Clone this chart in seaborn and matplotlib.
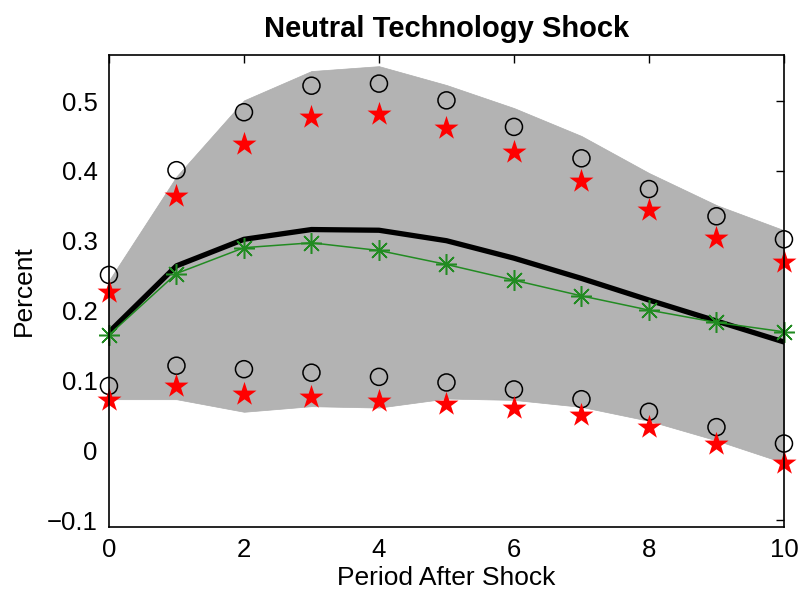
import numpy as np
import pandas as pd
import matplotlib
matplotlib.use("Agg")
import matplotlib.pyplot as plt
import seaborn as sns

# Horizon (periods after the shock)
periods = list(range(11))

# Posterior band (shaded area)
band_upper = [0.243, 0.392, 0.501, 0.543, 0.550, 0.523, 0.490, 0.450, 0.397, 0.351, 0.315]
band_lower = [0.073, 0.073, 0.055, 0.063, 0.061, 0.074, 0.072, 0.062, 0.042, 0.014, -0.018]

# Median response (thick black line)
median_resp = [0.169, 0.264, 0.302, 0.316, 0.315, 0.300, 0.275, 0.246, 0.215, 0.185, 0.155]

# Alternative estimate (green line with asterisks)
alt_resp = [0.165, 0.253, 0.290, 0.297, 0.286, 0.266, 0.2435, 0.221, 0.2006, 0.183, 0.1695]

# Circle bounds
circ_upper = [0.251, 0.401, 0.484, 0.522, 0.525, 0.501, 0.463, 0.418, 0.374, 0.335, 0.302]
circ_lower = [0.092, 0.121, 0.116, 0.111, 0.105, 0.097, 0.087, 0.073, 0.055, 0.033, 0.0095]

# Star bounds
star_upper = [0.227, 0.364, 0.439, 0.477, 0.481, 0.462, 0.427, 0.386, 0.344, 0.304, 0.269]
star_lower = [0.0716, 0.092, 0.081, 0.0755, 0.0707, 0.066, 0.060, 0.050, 0.0325, 0.0095, -0.018]

xticks = [0, 2, 4, 6, 8, 10]
yticks = [-0.1, 0, 0.1, 0.2, 0.3, 0.4, 0.5]
ytick_labels = ["\u22120.1", "0", "0.1", "0.2", "0.3", "0.4", "0.5"]

sns.set_style("white")
plt.rcParams["font.family"] = ["Liberation Sans", "DejaVu Sans"]
plt.rcParams["text.color"] = "black"
plt.rcParams["axes.labelcolor"] = "black"
plt.rcParams["xtick.color"] = "black"
plt.rcParams["ytick.color"] = "black"

df = pd.DataFrame({
    "period": periods,
    "band_upper": band_upper,
    "band_lower": band_lower,
    "median": median_resp,
    "alt": alt_resp,
    "circ_upper": circ_upper,
    "circ_lower": circ_lower,
    "star_upper": star_upper,
    "star_lower": star_lower,
})

fig = plt.figure(figsize=(8.03, 5.95), dpi=100)
ax = fig.add_axes([0.1357, 0.1143, 0.8406, 0.7933])

ax.fill_between(df["period"], df["band_lower"], df["band_upper"],
                facecolor="#b3b3b3", edgecolor="#adadad", linewidth=0.5, zorder=1)

sns.lineplot(data=df, x="period", y="median", ax=ax, color="black",
             linewidth=3.8, zorder=3, legend=False)
sns.lineplot(data=df, x="period", y="alt", ax=ax, color="#228B22",
             linewidth=1.1, marker=(8, 2, 0), markersize=15,
             markeredgecolor="#228B22", markeredgewidth=1.1,
             zorder=4, legend=False, clip_on=False)

for col in ["circ_upper", "circ_lower"]:
    sns.scatterplot(data=df, x="period", y=col, ax=ax, marker="o", s=150,
                    facecolors="none", edgecolor="black", linewidth=1.1,
                    zorder=5, legend=False, clip_on=False)
for col in ["star_upper", "star_lower"]:
    sns.scatterplot(data=df, x="period", y=col, ax=ax, marker="*", s=330,
                    color="#ff0000", edgecolor="#ff0000", linewidth=0,
                    zorder=5, legend=False, clip_on=False)

ax.set_xlim(0, 10)
ax.set_ylim(-0.11, 0.566)
ax.set_xticks(xticks)
ax.set_xticklabels([str(t) for t in xticks])
ax.set_yticks(yticks)
ax.set_yticklabels(ytick_labels)

ax.tick_params(direction="in", length=6, width=1.0, top=True, right=True,
               labelsize=18.5, pad=8, colors="black")
for side in ["left", "right", "top", "bottom"]:
    ax.spines[side].set_visible(True)
    ax.spines[side].set_color("black")
    ax.spines[side].set_linewidth(1.2)
    ax.spines[side].set_zorder(6)

ax.set_xlabel("Period After Shock", fontsize=19, labelpad=3)
ax.set_ylabel("Percent", fontsize=19, labelpad=8)
ax.set_title("Neutral Technology Shock", fontsize=21, fontweight="bold", pad=13)

fig.savefig("out.png", dpi=100)
